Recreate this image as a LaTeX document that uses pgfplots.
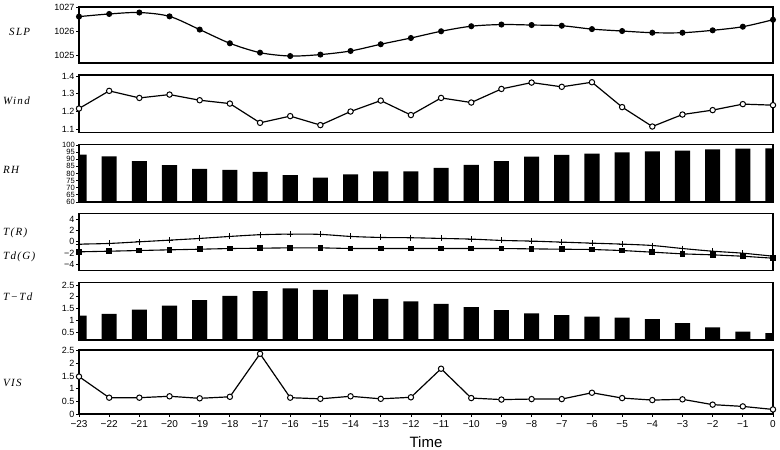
\documentclass[border=0pt]{standalone}
\usepackage{fontspec}
\setmainfont{Liberation Sans}
\newfontfamily\labfont[LetterSpace=12]{Liberation Serif}
\usepackage{pgfplots}
\pgfplotsset{compat=1.18}
\pgfplotsset{
  panel/.style={
    scale only axis, width=694pt, anchor=south west,
    xmin=-23, xmax=0, clip=true,
    axis line style={line width=1.1pt},
    tick align=outside, ytick pos=left, xtick pos=bottom,
    major tick length=3pt,
    tick style={black, line width=0.8pt},
    xtick=\empty,
    yticklabel style={font=\fontsize{9}{9}\selectfont, inner sep=1.5pt},
    xticklabel style={font=\fontsize{10}{10}\selectfont},
    /pgf/number format/assume math mode=true,
    /pgf/number format/set thousands separator={},
  }
}
\begin{document}
\begin{tikzpicture}
\useasboundingbox (0,0) rectangle (780pt,450pt);
% SLP
\begin{axis}[panel, at={(79pt,387pt)}, height=56pt, ymin=1024.67, ymax=1027,
  ytick={1025,1026,1027}]
\addplot[black, line width=1.2pt, smooth, mark=*, mark size=2.4pt] coordinates {
(-23,1026.60) (-22,1026.71) (-21,1026.77) (-20,1026.61) (-19,1026.06) (-18,1025.49)
(-17,1025.10) (-16,1024.96) (-15,1025.02) (-14,1025.17) (-13,1025.45) (-12,1025.71)
(-11,1025.99) (-10,1026.20) (-9,1026.27) (-8,1026.25) (-7,1026.22) (-6,1026.08)
(-5,1026.00) (-4,1025.93) (-3,1025.93) (-2,1026.03) (-1,1026.18) (0,1026.47)};
\end{axis}
% Wind
\begin{axis}[panel, at={(79pt,317.3pt)}, height=57.7pt, ymin=1.08, ymax=1.407,
  ytick={1.1,1.2,1.3,1.4}, yticklabel style={/pgf/number format/.cd, fixed, fixed zerofill, precision=1}]
\addplot[black, line width=1.2pt, mark=*, mark size=2.7pt, mark options={fill=white, line width=1pt}] coordinates {
(-23,1.217) (-22,1.317) (-21,1.277) (-20,1.296) (-19,1.264) (-18,1.245)
(-17,1.136) (-16,1.174) (-15,1.123) (-14,1.200) (-13,1.262) (-12,1.180)
(-11,1.277) (-10,1.251) (-9,1.328) (-8,1.364) (-7,1.340) (-6,1.366)
(-5,1.225) (-4,1.115) (-3,1.183) (-2,1.208) (-1,1.242) (0,1.236)};
\end{axis}
% RH
\begin{axis}[panel, at={(79pt,248pt)}, height=57.7pt, ymin=60, ymax=100.5,
  ytick={60,65,...,100}, yticklabel style={font=\fontsize{7.6}{7.6}\selectfont, inner sep=1pt}]
\addplot[ybar, bar width=0.5, fill=black, draw=none] coordinates {
(-23,93.2) (-22,92.1) (-21,88.6) (-20,85.8) (-19,83.2) (-18,82.5)
(-17,81.1) (-16,78.9) (-15,77.1) (-14,79.4) (-13,81.5) (-12,81.5)
(-11,83.9) (-10,86.0) (-9,88.6) (-8,91.8) (-7,93.0) (-6,93.9)
(-5,94.9) (-4,95.6) (-3,96.0) (-2,97.0) (-1,97.4) (0,97.7)};
\end{axis}
% T and Td
\begin{axis}[panel, at={(79pt,179.7pt)}, height=57pt, ymin=-5, ymax=5,
  ytick={-4,-2,0,2,4}, yticklabels={−4,−2,0,2,4}]
\addplot[black, line width=1.1pt, smooth, mark=+, mark size=3pt, mark options={line width=0.9pt}] coordinates {
(-23,-0.41) (-22,-0.29) (-21,0.00) (-20,0.29) (-19,0.59) (-18,0.94)
(-17,1.24) (-16,1.35) (-15,1.30) (-14,0.94) (-13,0.76) (-12,0.71)
(-11,0.59) (-10,0.47) (-9,0.24) (-8,0.12) (-7,-0.06) (-6,-0.24)
(-5,-0.41) (-4,-0.65) (-3,-1.18) (-2,-1.65) (-1,-2.00) (0,-2.53)};
\addplot[black, line width=1.1pt, mark=square*, mark size=2.3pt] coordinates {
(-23,-1.76) (-22,-1.65) (-21,-1.53) (-20,-1.41) (-19,-1.30) (-18,-1.18)
(-17,-1.12) (-16,-1.06) (-15,-1.06) (-14,-1.18) (-13,-1.18) (-12,-1.18)
(-11,-1.18) (-10,-1.18) (-9,-1.18) (-8,-1.24) (-7,-1.30) (-6,-1.35)
(-5,-1.53) (-4,-1.82) (-3,-2.12) (-2,-2.29) (-1,-2.53) (0,-2.88)};
\end{axis}
% T-Td
\begin{axis}[panel, at={(79pt,110pt)}, height=57.3pt, ymin=0.17, ymax=2.6,
  ytick={0.5,1,1.5,2,2.5}]
\addplot[ybar, bar width=0.5, fill=black, draw=none] coordinates {
(-23,1.20) (-22,1.28) (-21,1.46) (-20,1.63) (-19,1.86) (-18,2.04)
(-17,2.24) (-16,2.36) (-15,2.30) (-14,2.11) (-13,1.91) (-12,1.81)
(-11,1.70) (-10,1.56) (-9,1.44) (-8,1.30) (-7,1.22) (-6,1.16)
(-5,1.12) (-4,1.06) (-3,0.89) (-2,0.71) (-1,0.53) (0,0.46)};
\end{axis}
% VIS
\begin{axis}[panel, at={(79pt,36pt)}, height=64pt, ymin=0, ymax=2.53,
  ytick={0,0.5,1,1.5,2,2.5},
  xtick={-23,-22,...,0},
  xticklabels={−23,−22,−21,−20,−19,−18,−17,−16,−15,−14,−13,−12,−11,−10,−9,−8,−7,−6,−5,−4,−3,−2,−1,0}]
\addplot[black, line width=1.2pt, mark=*, mark size=2.7pt, mark options={fill=white, line width=1pt}] coordinates {
(-23,1.48) (-22,0.645) (-21,0.645) (-20,0.70) (-19,0.62) (-18,0.68)
(-17,2.38) (-16,0.645) (-15,0.60) (-14,0.70) (-13,0.60) (-12,0.66)
(-11,1.79) (-10,0.63) (-9,0.57) (-8,0.59) (-7,0.59) (-6,0.84)
(-5,0.63) (-4,0.55) (-3,0.58) (-2,0.37) (-1,0.30) (0,0.18)};
\end{axis}
% labels
\begin{scope}[every node/.style={anchor=west, inner sep=0pt, font=\labfont\itshape\fontsize{11}{11}\selectfont}]
\node at (9pt,418pt) {SLP};
\node at (3pt,349pt) {Wind};
\node at (3pt,280pt) {RH};
\node at (3pt,217pt) {T(R)};
\node at (3pt,193pt) {Td(G)};
\node at (3pt,153.3pt) {T−Td};
\node at (3pt,67.3pt) {VIS};
\end{scope}
\node[font=\fontsize{15}{15}\selectfont, inner sep=0pt] at (426pt,8pt) {Time};
\end{tikzpicture}
\end{document}
